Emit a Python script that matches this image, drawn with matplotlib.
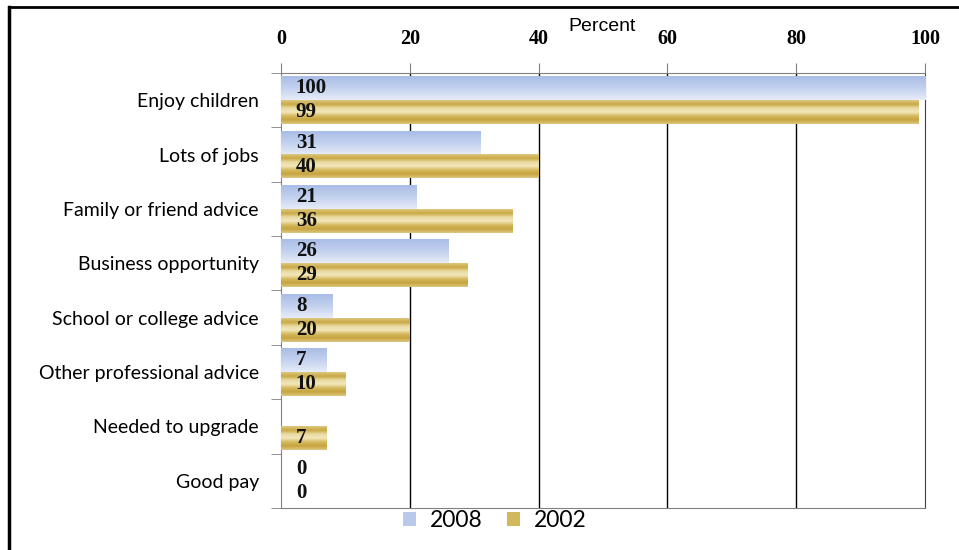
import numpy as np
import matplotlib.pyplot as plt
from matplotlib.colors import LinearSegmentedColormap
from matplotlib.patches import Patch
from matplotlib.lines import Line2D

# chart data (top to bottom)
categories = ["Enjoy children", "Lots of jobs", "Family or friend advice",
              "Business opportunity", "School or college advice",
              "Other professional advice", "Needed to upgrade", "Good pay"]
pct_2008 = [100, 31, 21, 26, 8, 7, None, 0]
pct_2002 = [99, 40, 36, 29, 20, 10, 7, 0]
x_ticks = [0, 20, 40, 60, 80, 100]

blue_map = LinearSegmentedColormap.from_list("b", ["#a9bde6", "#c3d1ee", "#e6ecf8"])
gold_map = LinearSegmentedColormap.from_list(
    "g", ["#dcc77f", "#c9a944", "#e9d9a0", "#f3e8bd", "#d6b95e", "#c6a43e", "#dcc682"])

fig = plt.figure(figsize=(9.59, 5.5), dpi=100)
ax = fig.add_axes([0.293, 0.0764, 0.6716, 0.7909])

y = np.arange(len(categories))
h = 0.44
v08 = [np.nan if v is None else v for v in pct_2008]
bars08 = ax.barh(y - h / 2, v08, height=h, color="none", zorder=3)
bars02 = ax.barh(y + h / 2, pct_2002, height=h, color="none", zorder=3)

# gradient fill inside each bar
grad = np.linspace(0, 1, 64).reshape(-1, 1)
for bars, cmap in [(bars08, blue_map), (bars02, gold_map)]:
    for b in bars:
        w = b.get_width()
        if not np.isfinite(w) or w <= 0:
            continue
        x0, y0 = b.get_x(), b.get_y()
        ax.imshow(grad, cmap=cmap, aspect="auto", zorder=3,
                  extent=[x0, x0 + w, y0 + b.get_height(), y0])

# value labels
for vals, off in [(pct_2008, -h / 2), (pct_2002, h / 2)]:
    for i, v in enumerate(vals):
        if v is None:
            continue
        ax.text(2.3, i + off, str(v), va="center", ha="left", fontsize=15,
                fontweight="bold", family="Liberation Serif", color="#111111", zorder=5)

ax.set_xlim(0, 100)
ax.set_ylim(len(categories) - 0.5, -0.5)
ax.xaxis.tick_top()
ax.set_xticks(x_ticks)
ax.set_xticklabels([str(t) for t in x_ticks], family="Liberation Serif",
                   fontweight="bold", fontsize=14.5)
ax.tick_params(axis="x", length=7, pad=10, color="#808080")
for xv in x_ticks[1:-1]:
    ax.axvline(xv, color="black", lw=1, zorder=1)

ax.set_yticks(y)
ax.set_yticklabels(categories, family="Lato", fontsize=14)
ax.tick_params(axis="y", length=0, pad=16)
ax.set_yticks(np.arange(len(categories) + 1) - 0.5, minor=True)
ax.tick_params(axis="y", which="minor", length=7, color="#808080")

for s in ax.spines.values():
    s.set_color("#808080")
ax.spines["right"].set_color("#404040")

fig.text(0.628, 0.952, "Percent", fontsize=14,
         family=["Liberation Sans Narrow", "Liberation Sans"],
         ha="center", va="center")

handles = [Patch(facecolor="#b8c9ec", edgecolor="none"),
           Patch(facecolor="#d2b75c", edgecolor="none")]
fig.legend(handles, ["2008", "2002"], loc="upper center", ncol=2,
           bbox_to_anchor=(0.516, 0.098), frameon=False,
           prop={"family": "Lato", "size": 16.5}, handlelength=0.55,
           handleheight=0.55, handletextpad=0.6, columnspacing=1.1,
           borderpad=0.1)

# outer frame
fig.add_artist(Line2D([0.0094, 0.0094], [0, 0.987], color="black", lw=2.5,
                      transform=fig.transFigure))
fig.add_artist(Line2D([0.0094, 1], [0.987, 0.987], color="black", lw=2,
                      transform=fig.transFigure))

fig.savefig("out.png", dpi=100)
